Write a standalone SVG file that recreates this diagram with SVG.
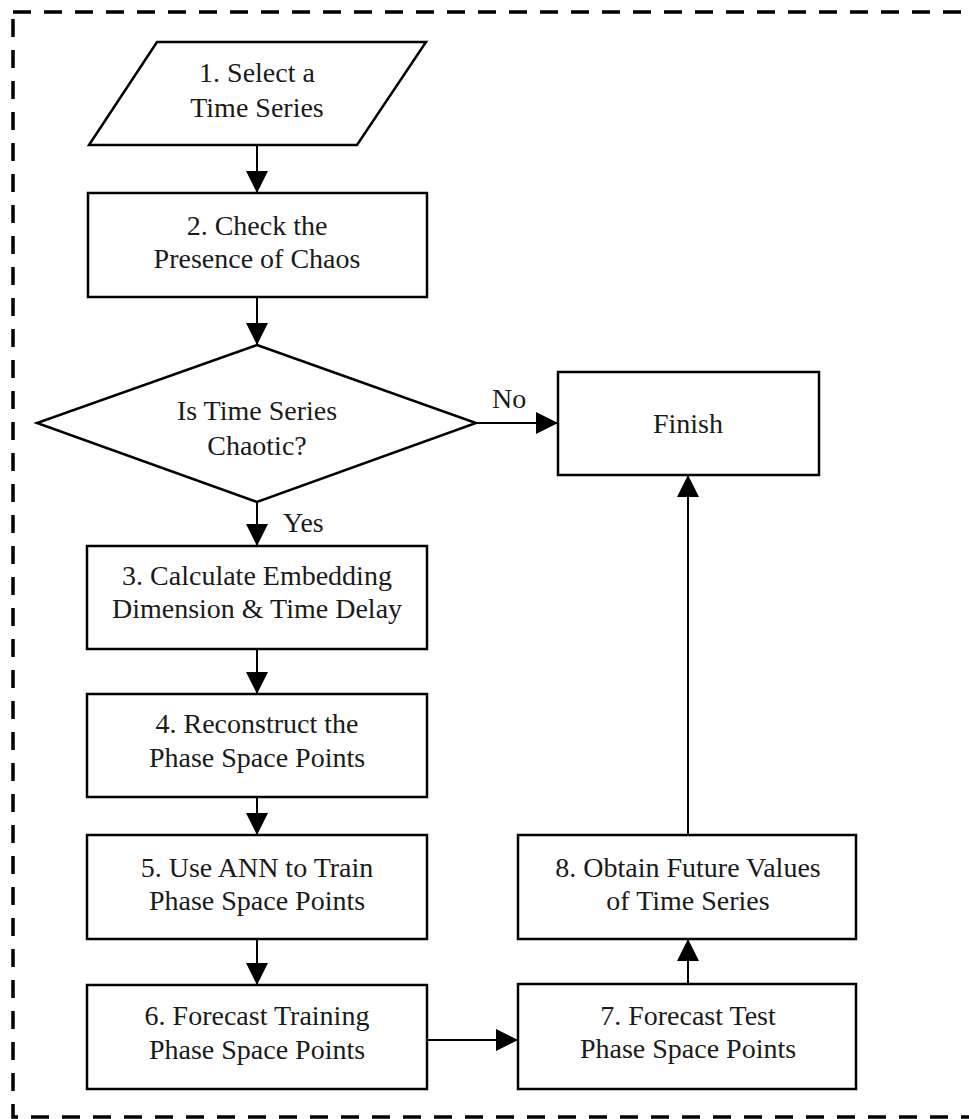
<svg xmlns="http://www.w3.org/2000/svg" width="969" height="1119" viewBox="0 0 969 1119">
  <style>
    .shape { fill: #ffffff; stroke: #000000; stroke-width: 2.5; }
    .frame { fill: none; stroke: #000000; stroke-width: 3.5; stroke-dasharray: 18 13; }
    .edge { fill: none; stroke: #000000; stroke-width: 2; }
    text { font-family: "Liberation Serif", "Times New Roman", serif; font-size: 28px; fill: #1a1a1a; }
    .c { text-anchor: middle; }
  </style>
  <defs>
    <marker id="arrow" markerUnits="userSpaceOnUse" markerWidth="22" markerHeight="22" refX="22" refY="11" orient="auto">
      <path d="M0,0 L22,11 L0,22 Z" fill="#000000"/>
    </marker>
  </defs>

  <rect fill="#ffffff" x="0" y="0" width="969" height="1119"/>

  <!-- dashed frame round the process (right side runs off the page) -->
  <rect class="frame" x="13" y="12" width="1000" height="1105"/>

  <!-- connectors -->
  <g id="connectors">
    <line class="edge" x1="257" y1="145" x2="257" y2="193" marker-end="url(#arrow)"/>
    <line class="edge" x1="257" y1="297" x2="257" y2="345" marker-end="url(#arrow)"/>
    <line class="edge" x1="476" y1="423" x2="558" y2="423" marker-end="url(#arrow)"/>
    <line class="edge" x1="257" y1="502" x2="257" y2="546" marker-end="url(#arrow)"/>
    <line class="edge" x1="257" y1="649" x2="257" y2="694" marker-end="url(#arrow)"/>
    <line class="edge" x1="257" y1="797" x2="257" y2="835" marker-end="url(#arrow)"/>
    <line class="edge" x1="257" y1="939" x2="257" y2="985" marker-end="url(#arrow)"/>
    <line class="edge" x1="427" y1="1040" x2="518" y2="1040" marker-end="url(#arrow)"/>
    <line class="edge" x1="688" y1="984" x2="688" y2="939" marker-end="url(#arrow)"/>
    <line class="edge" x1="688" y1="835" x2="688" y2="475" marker-end="url(#arrow)"/>
    <text x="492" y="408">No</text>
    <text x="283" y="532">Yes</text>
  </g>

  <g id="n1-select">
    <polygon class="shape" points="157,42 426,42 357,145 89,145"/>
    <text class="c" x="257" y="82">1. Select a</text>
    <text class="c" x="257" y="117">Time Series</text>
  </g>

  <g id="n2-check">
    <rect class="shape" x="88" y="193" width="339" height="104"/>
    <text class="c" x="257" y="235">2. Check the</text>
    <text class="c" x="257" y="268">Presence of Chaos</text>
  </g>

  <g id="n-decision">
    <polygon class="shape" points="257,345 476,423 257,502 37,423"/>
    <text class="c" x="257" y="420">Is Time Series</text>
    <text class="c" x="257" y="455">Chaotic?</text>
  </g>

  <g id="n-finish">
    <rect class="shape" x="558" y="372" width="261" height="103"/>
    <text class="c" x="688" y="433">Finish</text>
  </g>

  <g id="n3-embedding">
    <rect class="shape" x="87" y="546" width="340" height="103"/>
    <text class="c" x="257" y="585">3. Calculate Embedding</text>
    <text class="c" x="257" y="618">Dimension &amp; Time Delay</text>
  </g>

  <g id="n4-reconstruct">
    <rect class="shape" x="87" y="694" width="340" height="103"/>
    <text class="c" x="257" y="733">4. Reconstruct the</text>
    <text class="c" x="257" y="767">Phase Space Points</text>
  </g>

  <g id="n5-train">
    <rect class="shape" x="87" y="835" width="340" height="104"/>
    <text class="c" x="257" y="877">5. Use ANN to Train</text>
    <text class="c" x="257" y="910">Phase Space Points</text>
  </g>

  <g id="n6-forecast-training">
    <rect class="shape" x="87" y="985" width="340" height="104"/>
    <text class="c" x="257" y="1025">6. Forecast Training</text>
    <text class="c" x="257" y="1059">Phase Space Points</text>
  </g>

  <g id="n7-forecast-test">
    <rect class="shape" x="518" y="984" width="338" height="105"/>
    <text class="c" x="688" y="1025">7. Forecast Test</text>
    <text class="c" x="688" y="1058">Phase Space Points</text>
  </g>

  <g id="n8-future">
    <rect class="shape" x="518" y="835" width="338" height="104"/>
    <text class="c" x="688" y="877">8. Obtain Future Values</text>
    <text class="c" x="688" y="910">of Time Series</text>
  </g>
</svg>
